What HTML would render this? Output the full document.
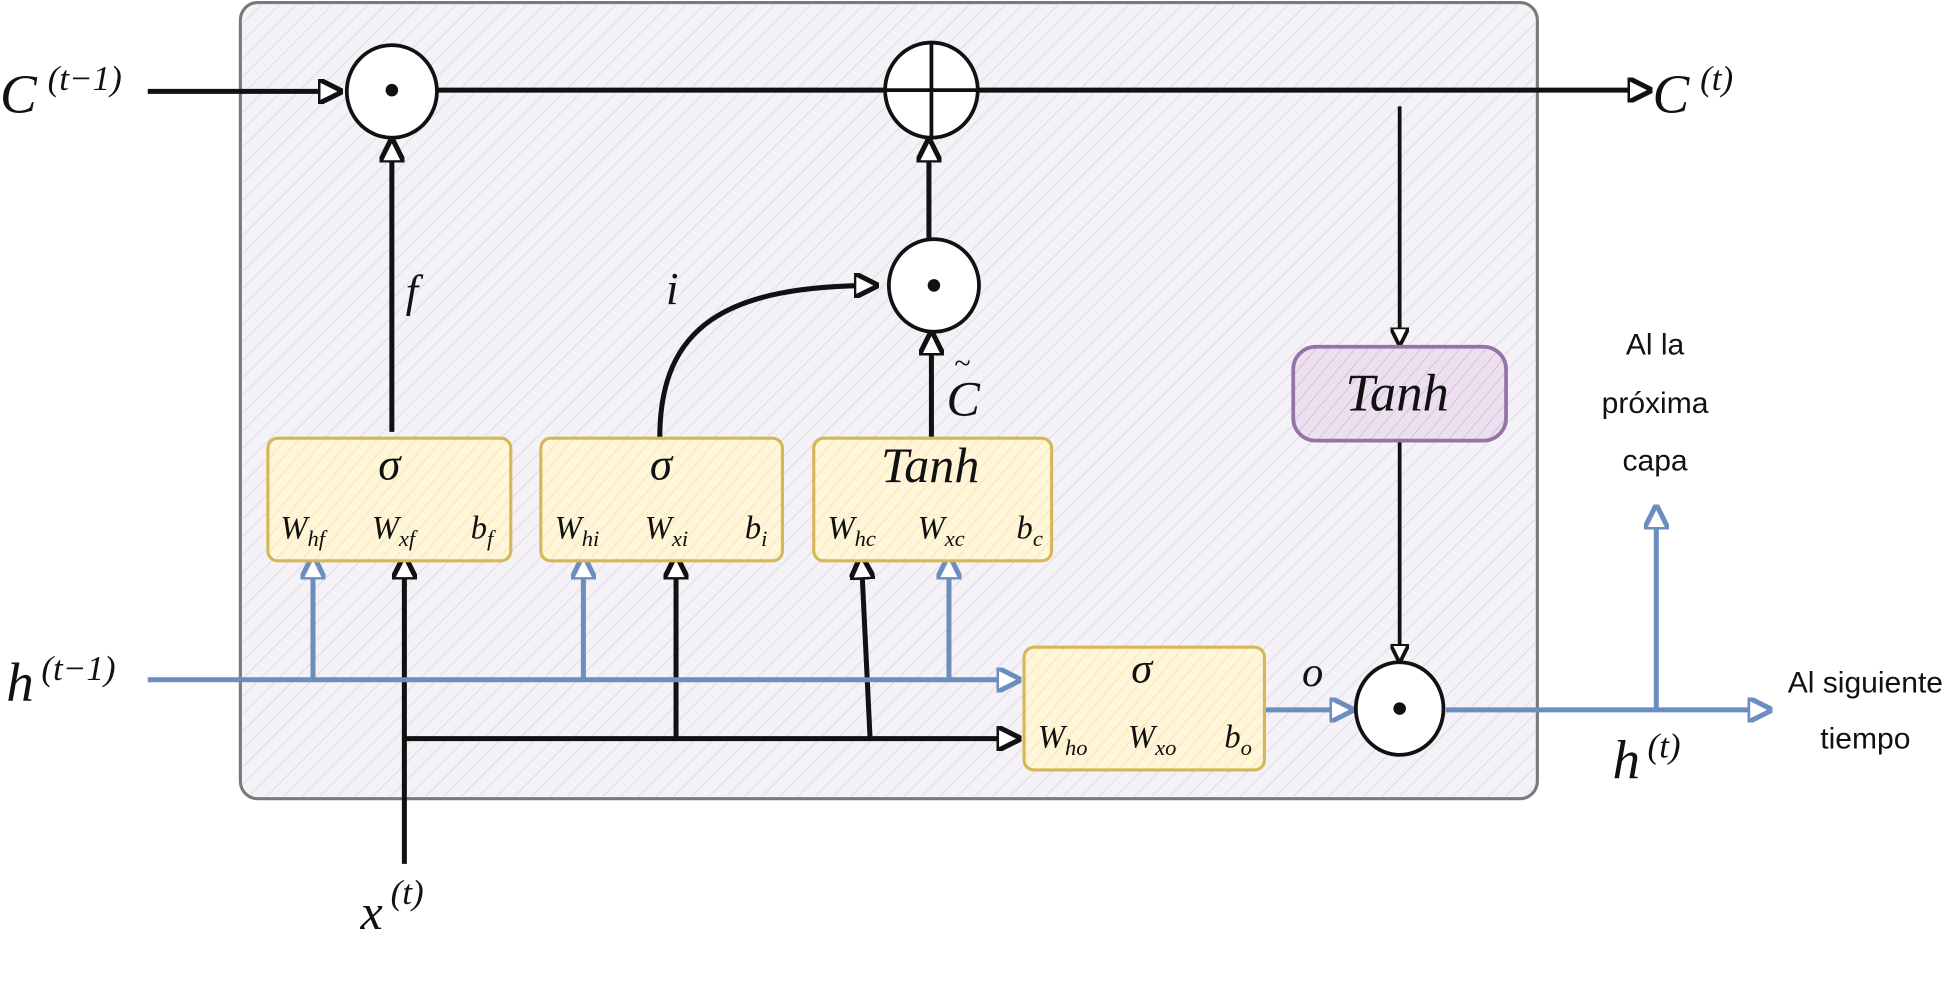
<!DOCTYPE html>
<html><head><meta charset="utf-8"><style>
html,body{margin:0;padding:0;background:#fff;}
svg{display:block}
.m{font-family:"Liberation Serif",serif;font-style:italic;fill:#111}
.h{font-family:"Liberation Sans",sans-serif;fill:#111}
</style></head><body>
<svg width="1953" height="984" viewBox="0 0 1560 786" preserveAspectRatio="none" xmlns="http://www.w3.org/2000/svg">
<defs>
<pattern id="hat" width="10" height="10" patternUnits="userSpaceOnUse" patternTransform="rotate(45)">
<line x1="0" y1="0" x2="0" y2="10" stroke="#d9d2e3" stroke-width="1.2"/></pattern>
<pattern id="yh" width="8" height="8" patternUnits="userSpaceOnUse" patternTransform="rotate(40)">
<rect width="8" height="8" fill="#fff6d9"/><line x1="0" y1="0" x2="0" y2="8" stroke="#f5df9e" stroke-width="1"/></pattern>
<pattern id="ph" width="8" height="8" patternUnits="userSpaceOnUse" patternTransform="rotate(40)">
<rect width="8" height="8" fill="#ece0ef"/><line x1="0" y1="0" x2="0" y2="8" stroke="#c8aed0" stroke-width="1"/></pattern>
<marker id="ab" viewBox="0 0 10 10" refX="9" refY="5" markerWidth="5" markerHeight="5" orient="auto"><path d="M0,0 L10,5 L0,10 z" fill="#fff" stroke="#111" stroke-width="2"/></marker>
<marker id="au" viewBox="0 0 10 10" refX="9" refY="5" markerWidth="5" markerHeight="5" orient="auto"><path d="M0,0 L10,5 L0,10 z" fill="#fff" stroke="#6c8ebf" stroke-width="2"/></marker>
</defs>
<rect x="192" y="2" width="1036" height="636" rx="14" fill="#f4f2f6" stroke="#7a7a7a" stroke-width="2.5"/>
<rect x="194" y="4" width="1032" height="632" rx="14" fill="url(#hat)"/>
<g stroke="#111" stroke-width="4" fill="none">
<line x1="118" y1="73" x2="272" y2="73" marker-end="url(#ab)"/>
<line x1="350" y1="72" x2="706" y2="72"/>
<line x1="780" y1="72" x2="1318" y2="72" marker-end="url(#ab)"/>
<line x1="313" y1="345" x2="313" y2="112" marker-end="url(#ab)"/>
<path d="M527 350 C527 260 580 228 700 228" marker-end="url(#ab)"/>
<line x1="744" y1="350" x2="744" y2="266" marker-end="url(#ab)"/>
<line x1="742" y1="190" x2="742" y2="112" marker-end="url(#ab)"/>
<line x1="1118" y1="85" x2="1118" y2="275" stroke-width="3" marker-end="url(#ab)"/>
<line x1="1118" y1="352" x2="1118" y2="528" stroke-width="3" marker-end="url(#ab)"/>
<line x1="323" y1="690" x2="323" y2="445" marker-end="url(#ab)"/>
<line x1="540" y1="590" x2="540" y2="445" marker-end="url(#ab)"/>
<line x1="695" y1="590" x2="688" y2="445" marker-end="url(#ab)"/>
<line x1="323" y1="590" x2="814" y2="590" marker-end="url(#ab)"/>
</g>
<g stroke="#6c8ebf" stroke-width="4" fill="none">
<line x1="118" y1="543" x2="814" y2="543" marker-end="url(#au)"/>
<line x1="250" y1="543" x2="250" y2="445" marker-end="url(#au)"/>
<line x1="466" y1="543" x2="466" y2="445" marker-end="url(#au)"/>
<line x1="758" y1="543" x2="758" y2="445" marker-end="url(#au)"/>
<line x1="1010" y1="567" x2="1080" y2="567" marker-end="url(#au)"/>
<line x1="1155" y1="567" x2="1414" y2="567" marker-end="url(#au)"/>
<line x1="1323" y1="567" x2="1323" y2="405" marker-end="url(#au)"/>
</g>
<g stroke="#111" stroke-width="3" fill="#fff">
<ellipse cx="313" cy="73" rx="36" ry="37"/>
<ellipse cx="744" cy="72" rx="37" ry="38"/>
<ellipse cx="746" cy="228" rx="36" ry="37"/>
<ellipse cx="1118" cy="566" rx="35" ry="37"/>
</g>
<line x1="708" y1="72" x2="780" y2="72" stroke="#111" stroke-width="3"/>
<line x1="744" y1="35" x2="744" y2="110" stroke="#111" stroke-width="3"/>
<circle cx="313" cy="72" r="5" fill="#111"/><circle cx="746" cy="228" r="5" fill="#111"/><circle cx="1118" cy="566" r="5" fill="#111"/>
<g stroke="#d6b656" stroke-width="2.5" fill="url(#yh)">
<rect x="214" y="350" width="194" height="98" rx="8"/>
<rect x="432" y="350" width="193" height="98" rx="8"/>
<rect x="650" y="350" width="190" height="98" rx="8"/>
<rect x="818" y="517" width="192" height="98" rx="8"/>
</g>
<rect x="1033" y="277" width="170" height="75" rx="18" fill="url(#ph)" stroke="#9673a6" stroke-width="3"/>
<g class="m">
<text x="0" y="90" font-size="44">C</text><text x="38" y="72" font-size="28">(t−1)</text>
<text x="1320" y="90" font-size="44">C</text><text x="1358" y="72" font-size="28">(t)</text>
<text x="5" y="560" font-size="44">h</text><text x="33" y="543" font-size="28">(t−1)</text>
<text x="1288" y="622" font-size="44">h</text><text x="1316" y="605" font-size="28">(t)</text>
<text x="288" y="742" font-size="40">x</text><text x="312" y="722" font-size="28">(t)</text>
<text x="324" y="245" font-size="36">f</text>
<text x="532" y="243" font-size="36">i</text>
<text x="1040" y="548" font-size="34">o</text>
<text x="756" y="332" font-size="40">C</text><text x="762" y="298" font-size="24">~</text>
<text x="311" y="383" font-size="36" text-anchor="middle">σ</text>
<text x="528" y="383" font-size="36" text-anchor="middle">σ</text>
<text x="743" y="385" font-size="40" text-anchor="middle">Tanh</text>
<text x="912" y="545" font-size="34" text-anchor="middle">σ</text>
<text x="1116" y="328" font-size="42" text-anchor="middle">Tanh</text>
<g font-size="26">
<text x="224" y="430">W<tspan font-size="18" dy="6">hf</tspan></text>
<text x="297" y="430">W<tspan font-size="18" dy="6">xf</tspan></text>
<text x="376" y="430">b<tspan font-size="18" dy="6">f</tspan></text>
<text x="443" y="430">W<tspan font-size="18" dy="6">hi</tspan></text>
<text x="515" y="430">W<tspan font-size="18" dy="6">xi</tspan></text>
<text x="595" y="430">b<tspan font-size="18" dy="6">i</tspan></text>
<text x="661" y="430">W<tspan font-size="18" dy="6">hc</tspan></text>
<text x="733" y="430">W<tspan font-size="18" dy="6">xc</tspan></text>
<text x="812" y="430">b<tspan font-size="18" dy="6">c</tspan></text>
<text x="829" y="597">W<tspan font-size="18" dy="6">ho</tspan></text>
<text x="901" y="597">W<tspan font-size="18" dy="6">xo</tspan></text>
<text x="978" y="597">b<tspan font-size="18" dy="6">o</tspan></text>
</g>
</g>
<g class="h" font-size="24" text-anchor="middle">
<text x="1322" y="283">Al la</text>
<text x="1322" y="330">próxima</text>
<text x="1322" y="376">capa</text>
<text x="1490" y="553">Al siguiente</text>
<text x="1490" y="598">tiempo</text>
</g>
</svg>
</body></html>
